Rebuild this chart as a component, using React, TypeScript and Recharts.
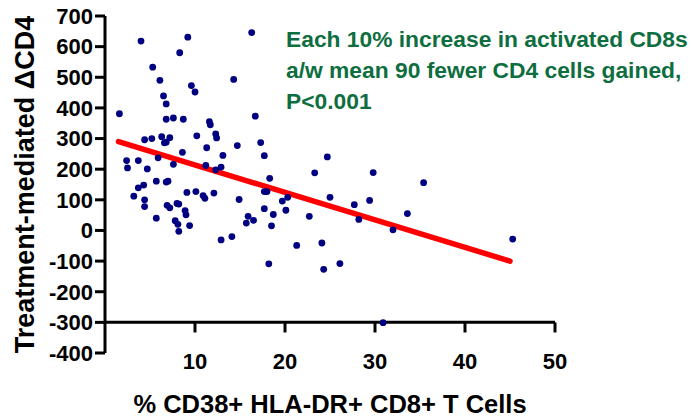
import { ScatterChart, Scatter, XAxis, YAxis, ReferenceLine, Label } from 'recharts'

// % CD38+ HLA-DR+ CD8+ T cells (x) vs treatment-mediated ΔCD4 (y)
const cd8Pct = [
  4.0, 9.2, 16.3, 8.3, 5.3, 6.1, 14.3, 9.6, 10.0, 6.5,
  6.8, 1.6, 6.8, 7.6, 8.7, 16.7, 11.6, 11.7, 12.3, 12.4,
  10.2, 4.4, 5.2, 6.3, 7.2, 6.6, 6.8, 17.3, 11.3, 14.7,
  8.6, 13.1, 17.7, 5.9, 2.4, 3.7, 2.5, 4.7, 7.6, 11.2,
  12.3, 12.9, 18.3, 5.7, 6.8, 7.0, 4.3, 3.7, 3.2, 4.4,
  9.1, 10.1, 10.9, 11.1, 12.1, 14.9, 17.7, 18.0, 19.7, 20.3,
  4.4, 6.9, 7.2, 8.0, 8.2, 8.9, 9.0, 5.7, 7.8, 8.1,
  8.2, 9.4, 17.7, 20.1, 18.7, 15.9, 16.5, 15.7, 18.5, 12.9,
  14.1, 21.3, 18.2, 24.7, 23.3, 29.8, 35.4, 25.0, 27.7, 29.4,
  28.2, 22.7, 33.6, 32.0, 24.1, 24.3, 26.1, 45.3, 30.9,
]
const deltaCd4 = [
  618, 631, 646, 580, 533, 490, 493, 473, 452, 439,
  413, 381, 363, 367, 363, 373, 355, 345, 315, 302,
  309, 296, 300, 306, 303, 286, 288, 287, 270, 277,
  255, 245, 244, 237, 228, 228, 204, 201, 216, 212,
  198, 207, 170, 161, 158, 161, 148, 139, 112, 100,
  124, 127, 114, 105, 122, 101, 127, 127, 96, 108,
  78, 82, 74, 88, 86, 65, 51, 40, 32, 20,
  -3, 16, 71, 66, 52, 46, 33, 24, 15, -31,
  -20, -49, -109, 240, 188, 189, 156, 108, 84, 98,
  36, 46, 55, 2, -41, -127, -108, -28, -301,
]

// fitted regression line, end points
const fitX = [1.5, 45]
const fitY = [290, -100]

const xTicks = [10, 20, 30, 40, 50]
const yTicks = [-400, -300, -200, -100, 0, 100, 200, 300, 400, 500, 600, 700]
const xAxisBase = -300

const X_TITLE = '% CD38+ HLA-DR+ CD8+ T Cells'
const Y_TITLE = 'Treatment-mediated ΔCD4'
const NOTE_LINES = [
  'Each 10% increase in activated CD8s',
  'a/w mean 90 fewer CD4 cells gained,',
  'P<0.001',
]

const FONT = '"Liberation Sans", Arial, Helvetica, sans-serif'
const NOTE_GREEN = '#0e6e40'

const points = cd8Pct.map((x, i) => ({ x, y: deltaCd4[i] }))
const fitLine = fitX.map((x, i) => ({ x, y: fitY[i] }))

const tickStyle = { fontSize: 22, fontWeight: 700, fill: '#000', fontFamily: FONT }

const Dot = (p: any) => <circle cx={p.cx} cy={p.cy} r={3.4} fill="#000080" />

const XTitle = (props: any) => {
  const { x, y, width } = props.viewBox
  return (
    <text x={x + width / 2} y={y + 60} textAnchor="middle"
      style={{ fontSize: 25.5, fontWeight: 700, fontFamily: FONT, fill: '#000' }}>
      {X_TITLE}
    </text>
  )
}

const YTitle = (props: any) => {
  const { x, y, height } = props.viewBox
  const cx = x + 34
  const cy = y + height / 2
  return (
    <text x={cx} y={cy} textAnchor="middle" transform={`rotate(-90, ${cx}, ${cy})`}
      style={{ fontSize: 27, fontWeight: 700, fontFamily: FONT, fill: '#000' }}>
      {Y_TITLE}
    </text>
  )
}

export default function App() {
  return (
    <div style={{ position: 'absolute', left: 0, top: 0, width: 692, height: 419, background: '#fff', fontFamily: FONT }}>
      <ScatterChart width={692} height={419} margin={{ top: 16, right: 137, bottom: 36, left: 0 }}>
        <XAxis type="number" dataKey="x" domain={[0, 50]} ticks={xTicks} interval={0}
          axisLine={false} tickLine={false} tickSize={0} tickMargin={0} height={30} tick={tickStyle}>
          <Label content={XTitle} />
        </XAxis>
        <YAxis type="number" dataKey="y" domain={[-400, 700]} ticks={yTicks} interval={0} width={105}
          axisLine={{ stroke: '#000', strokeWidth: 3 }} tickLine={{ stroke: '#000', strokeWidth: 3 }}
          tickSize={10} tickMargin={2} tick={tickStyle}>
          <Label content={YTitle} />
        </YAxis>
        {/* x axis drawn across at y = -300, as in the original */}
        <ReferenceLine y={xAxisBase} stroke="#000" strokeWidth={3} />
        {xTicks.map((t) => (
          <ReferenceLine key={t} segment={[{ x: t, y: xAxisBase }, { x: t, y: xAxisBase - 33 }]}
            stroke="#000" strokeWidth={3} />
        ))}
        <Scatter data={fitLine} line={{ stroke: '#ff0000', strokeWidth: 5.5, strokeLinecap: 'round' }}
          shape={() => <g />} isAnimationActive={false} />
        <Scatter data={points} fill="#000080" shape={Dot} isAnimationActive={false} />
      </ScatterChart>
      <div style={{
        position: 'absolute', left: 286, top: 23.5, fontSize: 22.8, lineHeight: '31px',
        fontWeight: 700, color: NOTE_GREEN, whiteSpace: 'nowrap',
      }}>
        {NOTE_LINES.map((l) => <div key={l}>{l}</div>)}
      </div>
    </div>
  )
}
